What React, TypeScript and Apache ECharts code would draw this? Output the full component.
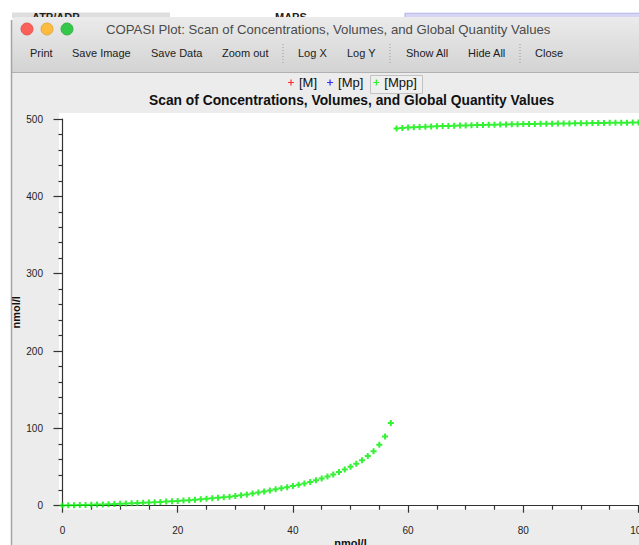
import React, { useEffect, useRef } from "react";
import * as echarts from "echarts";

// Scan parameter (x) and the steady-state [Mpp] concentration at each step (nmol/l)
const scanValues = [
  0, 1, 2, 3, 4, 5, 6, 7, 8, 9, 10, 11, 12, 13, 14, 15, 16, 17, 18, 19, 20,
  21, 22, 23, 24, 25, 26, 27, 28, 29, 30, 31, 32, 33, 34, 35, 36, 37, 38, 39, 40,
  41, 42, 43, 44, 45, 46, 47, 48, 49, 50, 51, 52, 53, 54, 55, 56, 57, 58, 59, 60,
  61, 62, 63, 64, 65, 66, 67, 68, 69, 70, 71, 72, 73, 74, 75, 76, 77, 78, 79, 80,
  81, 82, 83, 84, 85, 86, 87, 88, 89, 90, 91, 92, 93, 94, 95, 96, 97, 98, 99, 100,
];
const mppValues = [
  0.3, 0.5, 0.7, 0.8, 1.0, 1.2, 1.4, 1.7, 1.9, 2.2, 2.5,
  2.8, 3.1, 3.4, 3.8, 4.2, 4.5, 4.9, 5.3, 5.8, 6.2,
  6.7, 7.2, 7.7, 8.3, 8.9, 9.5, 10.2, 10.9, 11.7, 12.5,
  13.5, 14.6, 15.8, 17.0, 18.3, 19.7, 21.2, 22.6, 24.0, 25.4,
  27.0, 28.8, 30.8, 33.0, 35.3, 37.8, 40.5, 43.5, 46.8, 50.4,
  54.2, 58.7, 64.2, 70.3, 78.8, 89.5, 107.0, 487.6, 488.4, 488.9,
  489.3, 489.7, 490.0, 490.3, 490.6, 490.9, 491.1, 491.3, 491.5, 491.7,
  491.9, 492.1, 492.3, 492.5, 492.6, 492.8, 492.9, 493.1, 493.2, 493.4,
  493.5, 493.6, 493.8, 493.9, 494.0, 494.1, 494.2, 494.3, 494.4, 494.5,
  494.6, 494.7, 494.8, 494.9, 495.0, 495.1, 495.2, 495.3, 495.4, 495.5,
];
// [M] and [Mp] curves carry no visible points in this plot
const mValues: number[] = [];
const mpValues: number[] = [];

const seriesNames = ["[M]", "[Mp]", "[Mpp]"];
const seriesColors = ["#ff0000", "#0000ff", "#00ee00"];

const windowTitle =
  "COPASI Plot: Scan of Concentrations, Volumes, and Global Quantity Values";
const plotTitle = "Scan of Concentrations, Volumes, and Global Quantity Values";
const axisUnit = "nmol/l";
const toolbarLabels = [
  "Print", "Save Image", "Save Data", "Zoom out",
  "Log X", "Log Y", "Show All", "Hide All", "Close",
];
const backWindowLabels = ["ATP/ADP", "MAPS"];

const FONT = "'Liberation Sans', Arial, Helvetica, sans-serif";
const PLUS = "path://M2,0H4V2H6V4H4V6H2V4H0V2H2Z";
const THIN_PLUS = "path://M2.4,0H3.6V2.4H6V3.6H3.6V6H2.4V3.6H0V2.4H2.4Z";

export default function App() {
  const ref = useRef<HTMLDivElement>(null);

  useEffect(() => {
    if (!ref.current) return;
    const chart = echarts.init(ref.current, undefined, { renderer: "svg" });

    const buttonX = [30, 72, 151, 222, 298, 347, 406, 468, 535];
    const separatorX = [283, 390, 520];
    const backLabelX = [32, 275];

    const toolbarTexts = toolbarLabels.map((label, i) => ({
      type: "text",
      x: buttonX[i],
      y: 53,
      z: -1,
      style: {
        text: label,
        fill: "#1c1c1c",
        fontSize: 11,
        fontFamily: FONT,
        verticalAlign: "middle",
      },
    }));

    const backTexts = backWindowLabels.map((label, i) => ({
      type: "text",
      x: backLabelX[i],
      y: 17,
      z: -4,
      style: {
        text: label,
        fill: "#222222",
        fontSize: 11,
        fontWeight: "bold",
        fontFamily: FONT,
        verticalAlign: "middle",
      },
    }));

    const separators = separatorX.map((x) => ({
      type: "line",
      z: -1,
      shape: { x1: x, y1: 44, x2: x, y2: 63 },
      style: { stroke: "#9a9a9a", lineWidth: 1, lineDash: [1, 2] },
    }));

    const pair = (vals: number[]) => vals.map((v, i) => [scanValues[i], v]);

    const option: any = {
      animation: false,
      backgroundColor: "#ffffff",
      title: {
        text: plotTitle,
        left: 149,
        top: 93,
        padding: 0,
        textStyle: {
          fontSize: 13.8,
          fontWeight: "bold",
          fontFamily: FONT,
          color: "#111111",
        },
      },
      legend: {
        data: seriesNames,
        left: 288,
        top: 76,
        padding: 0,
        itemGap: 10,
        itemWidth: 6,
        itemHeight: 6,
        icon: THIN_PLUS,
        selectedMode: false,
        textStyle: { fontSize: 13, fontFamily: FONT, color: "#111111" },
      },
      grid: {
        left: 62.5,
        right: 0.5,
        top: 119,
        bottom: 39.3,
        outerBoundsMode: "none",
      },
      xAxis: {
        type: "value",
        min: 0,
        max: 100,
        interval: 20,
        offset: 7.3,
        name: axisUnit,
        nameLocation: "middle",
        nameGap: 24,
        nameMoveOverlap: false,
        nameTextStyle: {
          fontSize: 11,
          fontWeight: "bold",
          fontFamily: FONT,
          color: "#111111",
        },
        axisLine: { show: true, lineStyle: { color: "#333333", width: 1.2 } },
        axisTick: { show: true, length: 7, lineStyle: { color: "#333333", width: 1.2 } },
        minorTick: {
          show: true,
          splitNumber: 4,
          length: 4,
          lineStyle: { color: "#333333", width: 1.2 },
        },
        axisLabel: {
          margin: 12,
          fontSize: 10,
          fontFamily: FONT,
          color: "#222222",
        },
        splitLine: { show: false },
      },
      yAxis: {
        type: "value",
        min: 0,
        max: 500,
        interval: 100,
        offset: 5.5,
        name: axisUnit,
        nameLocation: "middle",
        nameRotate: 90,
        nameGap: 36,
        nameMoveOverlap: false,
        nameTextStyle: {
          fontSize: 11,
          fontWeight: "bold",
          fontFamily: FONT,
          color: "#111111",
        },
        axisLine: { show: true, lineStyle: { color: "#333333", width: 1.2 } },
        axisTick: { show: true, length: 9, lineStyle: { color: "#333333", width: 1.2 } },
        minorTick: {
          show: true,
          splitNumber: 5,
          length: 4,
          lineStyle: { color: "#333333", width: 1.2 },
        },
        axisLabel: {
          margin: 14,
          fontSize: 10,
          fontFamily: FONT,
          color: "#222222",
        },
        splitLine: { show: false },
      },
      graphic: [
        // pieces of the window behind, partly hidden by the plot window
        {
          type: "rect",
          z: -5,
          shape: { x: 12, y: 12, width: 158, height: 6 },
          style: { fill: "#dedede" },
        },
        ...backTexts,
        {
          type: "rect",
          z: -5,
          shape: { x: 405, y: 13, width: 240, height: 5 },
          style: { fill: "#d6d6f4", stroke: "#a9a9e6", lineWidth: 1 },
        },
        // desktop strip above the back window
        {
          type: "rect",
          z: -3,
          shape: { x: 0, y: 0, width: 639, height: 12.5 },
          style: { fill: "#ffffff" },
        },
        // window body
        {
          type: "rect",
          z: -2,
          shape: { x: 12, y: 17, width: 640, height: 540, r: [5, 0, 0, 0] },
          style: { fill: "#ececec" },
        },
        // unified title bar + toolbar
        {
          type: "rect",
          z: -2,
          shape: { x: 12, y: 17, width: 640, height: 55, r: [5, 0, 0, 0] },
          style: {
            fill: new echarts.graphic.LinearGradient(0, 0, 0, 1, [
              { offset: 0, color: "#ebebeb" },
              { offset: 1, color: "#d3d3d3" },
            ]),
          },
        },
        {
          type: "line",
          z: -1,
          shape: { x1: 12, y1: 72.5, x2: 639, y2: 72.5 },
          style: { stroke: "#b1b1b1", lineWidth: 1 },
        },
        {
          type: "line",
          z: -1,
          shape: { x1: 11.5, y1: 20, x2: 11.5, y2: 545 },
          style: { stroke: "#a5a5a5", lineWidth: 1.5 },
        },
        // traffic lights
        {
          type: "circle",
          z: -1,
          shape: { cx: 27, cy: 29, r: 6 },
          style: { fill: "#fc605b", stroke: "#de4a44", lineWidth: 0.8 },
        },
        {
          type: "circle",
          z: -1,
          shape: { cx: 47, cy: 29, r: 6 },
          style: { fill: "#fdbc40", stroke: "#dea033", lineWidth: 0.8 },
        },
        {
          type: "circle",
          z: -1,
          shape: { cx: 67, cy: 29, r: 6 },
          style: { fill: "#34c84a", stroke: "#27a83a", lineWidth: 0.8 },
        },
        {
          type: "text",
          x: 106,
          y: 29,
          z: -1,
          style: {
            text: windowTitle,
            fill: "#4b4b4b",
            fontSize: 13.2,
            fontFamily: FONT,
            verticalAlign: "middle",
          },
        },
        ...toolbarTexts,
        ...separators,
        // checked legend entry frame
        {
          type: "rect",
          z: -1,
          shape: { x: 370.5, y: 75.5, width: 52, height: 18 },
          style: { fill: "#efefef", stroke: "#c2c2c2", lineWidth: 1 },
        },
        // plot canvas
        {
          type: "rect",
          z: -1,
          shape: { x: 59, y: 113, width: 590, height: 396.5 },
          style: { fill: "#ffffff" },
        },
      ],
      series: [
        {
          type: "scatter",
          name: seriesNames[0],
          data: pair(mValues),
          symbol: PLUS,
          symbolSize: 6,
          itemStyle: { color: seriesColors[0] },
        },
        {
          type: "scatter",
          name: seriesNames[1],
          data: pair(mpValues),
          symbol: PLUS,
          symbolSize: 6,
          itemStyle: { color: seriesColors[1] },
        },
        {
          type: "scatter",
          name: seriesNames[2],
          data: pair(mppValues),
          symbol: PLUS,
          symbolSize: 6,
          itemStyle: { color: seriesColors[2] },
        },
      ],
    };

    chart.setOption(option);
    return () => chart.dispose();
  }, []);

  return (
    <div
      ref={ref}
      style={{ position: "fixed", left: 0, top: 0, width: 639, height: 545 }}
    />
  );
}
